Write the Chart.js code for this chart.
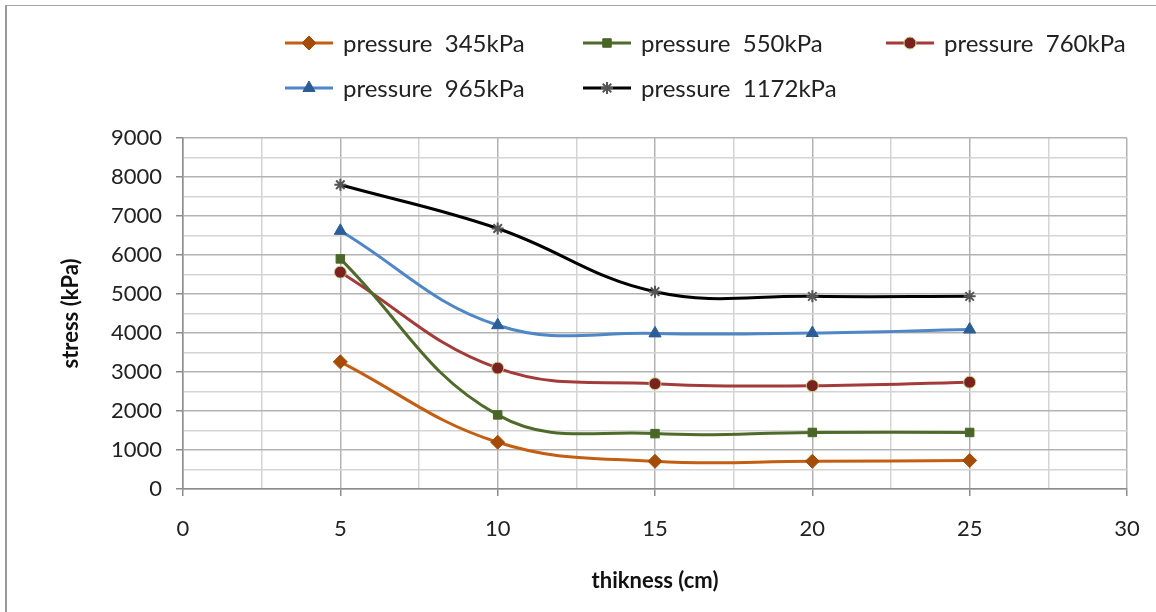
<!DOCTYPE html>
<html>
<head>
<meta charset="utf-8">
<script src="https://cdn.jsdelivr.net/npm/chart.js@4/dist/chart.umd.min.js"></script>
<style>
  html, body { margin: 0; padding: 0; background: #fff; }
  #wrap { position: relative; width: 1156px; height: 612px; }
  #frame { position: absolute; left: 5px; top: 5px; right: 0; bottom: 0;
           border-top: 1px solid #a6a6a6; border-left: 2px solid #999; pointer-events: none; }
  canvas { position: absolute; left: 0; top: 0; }
</style>
</head>
<body>
<div id="wrap">
  <canvas id="chart" width="1156" height="612"></canvas>
  <div id="frame"></div>
</div>
<script>
var thickness = [5, 10, 15, 20, 25];
var seriesNames = ["pressure  345kPa", "pressure  550kPa", "pressure  760kPa", "pressure  965kPa", "pressure  1172kPa"];
var stress345 = [3260, 1200, 710, 710, 730];
var stress550 = [5900, 1900, 1420, 1450, 1450];
var stress760 = [5560, 3100, 2700, 2650, 2740];
var stress965 = [6620, 4200, 3990, 4000, 4090];
var stress1172 = [7800, 6680, 5060, 4940, 4940];
var xTicks = [0, 5, 10, 15, 20, 25, 30];
var yTicks = [0, 1000, 2000, 3000, 4000, 5000, 6000, 7000, 8000, 9000];

var FONT = "Lato, 'Open Sans', sans-serif";

function toPoints(vals) {
  return thickness.map(function(x, i) { return { x: x, y: vals[i] }; });
}

function makeSet(i, vals, line, fill, border, style, radius) {
  return {
    label: seriesNames[i],
    data: toPoints(vals),
    borderColor: line,
    borderWidth: 3,
    tension: 0.4,
    pointStyle: style,
    pointRadius: radius,
    pointBackgroundColor: fill,
    pointBorderColor: border,
    pointBorderWidth: style === "star" ? 2 : 1
  };
}

var datasets = [
  makeSet(0, stress345, "#C35E12", "#A44C06", "#A44C06", "rectRot", 7),
  makeSet(1, stress550, "#4F6B2B", "#4A6626", "#4A6626", "rect", 6),
  makeSet(2, stress760, "#A23B3A", "#7A2221", "#C4D07A", "circle", 6),
  makeSet(3, stress965, "#4F86C6", "#2C5D96", "#2C5D96", "triangle", 7),
  makeSet(4, stress1172, "#000000", "#555555", "#555555", "star", 6)
];

// legend drawn in Excel style: line sample with marker in the middle
var legendSlots = [
  { x: 285, y: 43 }, { x: 583, y: 43 }, { x: 886, y: 43 },
  { x: 285, y: 88 }, { x: 583, y: 88 }
];

var excelLegend = {
  id: "excelLegend",
  afterDraw: function(chart) {
    var ctx = chart.ctx;
    chart.data.datasets.forEach(function(ds, i) {
      var s = legendSlots[i];
      ctx.save();
      ctx.strokeStyle = ds.borderColor;
      ctx.lineWidth = 3;
      ctx.beginPath();
      ctx.moveTo(s.x, s.y);
      ctx.lineTo(s.x + 48, s.y);
      ctx.stroke();
      ctx.fillStyle = ds.pointBackgroundColor;
      ctx.strokeStyle = ds.pointBorderColor;
      ctx.lineWidth = ds.pointBorderWidth;
      Chart.helpers.drawPoint(ctx, { pointStyle: ds.pointStyle, radius: ds.pointRadius, rotation: 0, borderWidth: ds.pointBorderWidth }, s.x + 24, s.y);
      ctx.fillStyle = "#222";
      ctx.font = "24px " + FONT;
      ctx.textBaseline = "middle";
      ctx.fillText(ds.label, s.x + 58, s.y + 1);
      ctx.restore();
    });
  }
};

function isMajor(v, step) {
  return Math.abs(v / step - Math.round(v / step)) < 1e-6;
}

new Chart(document.getElementById("chart"), {
  type: "line",
  data: { datasets: datasets },
  options: {
    responsive: false,
    animation: false,
    layout: { padding: { top: 138, right: 29, left: 58, bottom: 18 } },
    plugins: { legend: { display: false }, tooltip: { enabled: false } },
    scales: {
      x: {
        type: "linear",
        min: 0, max: 30,
        ticks: {
          stepSize: 2.5,
          color: "#222",
          font: { family: FONT, size: 22 },
          padding: 20,
          maxRotation: 0,
          autoSkip: false,
          callback: function(v) { return xTicks.indexOf(v) >= 0 ? String(v) : ""; }
        },
        grid: {
          color: function(c) { return isMajor(c.tick.value, 5) ? "#b3b3b3" : "#d4d4d4"; },
          tickColor: function(c) { return isMajor(c.tick.value, 5) ? "#8c8c8c" : "rgba(0,0,0,0)"; },
          tickLength: 7,
          lineWidth: 1.5
        },
        border: { color: "#8c8c8c", width: 1.5 },
        title: { display: true, text: "thikness (cm)", color: "#111", font: { family: FONT, size: 22, weight: "bold" }, padding: { top: 0, bottom: 0 } },
        afterFit: function(scale) {
          scale.height = 105;
          scale.paddingLeft = 0;
          scale.paddingRight = 0;
        }
      },
      y: {
        type: "linear",
        min: 0, max: 9000,
        ticks: {
          stepSize: 500,
          color: "#222",
          font: { family: FONT, size: 22 },
          padding: 14,
          autoSkip: false,
          callback: function(v) { return yTicks.indexOf(v) >= 0 ? String(v) : ""; }
        },
        grid: {
          color: function(c) { return isMajor(c.tick.value, 1000) ? "#b3b3b3" : "#d4d4d4"; },
          tickColor: function(c) { return isMajor(c.tick.value, 1000) ? "#8c8c8c" : "rgba(0,0,0,0)"; },
          tickLength: 7,
          lineWidth: 1.5
        },
        border: { color: "#8c8c8c", width: 1.5 },
        title: { display: true, text: "stress (kPa)", color: "#111", font: { family: FONT, size: 22, weight: "bold" }, padding: { top: 0, bottom: 0 } },
        afterFit: function(scale) {
          scale.width = 125;
          scale.paddingTop = 0;
          scale.paddingBottom = 0;
        }
      }
    }
  },
  plugins: [excelLegend]
});
</script>
</body>
</html>
